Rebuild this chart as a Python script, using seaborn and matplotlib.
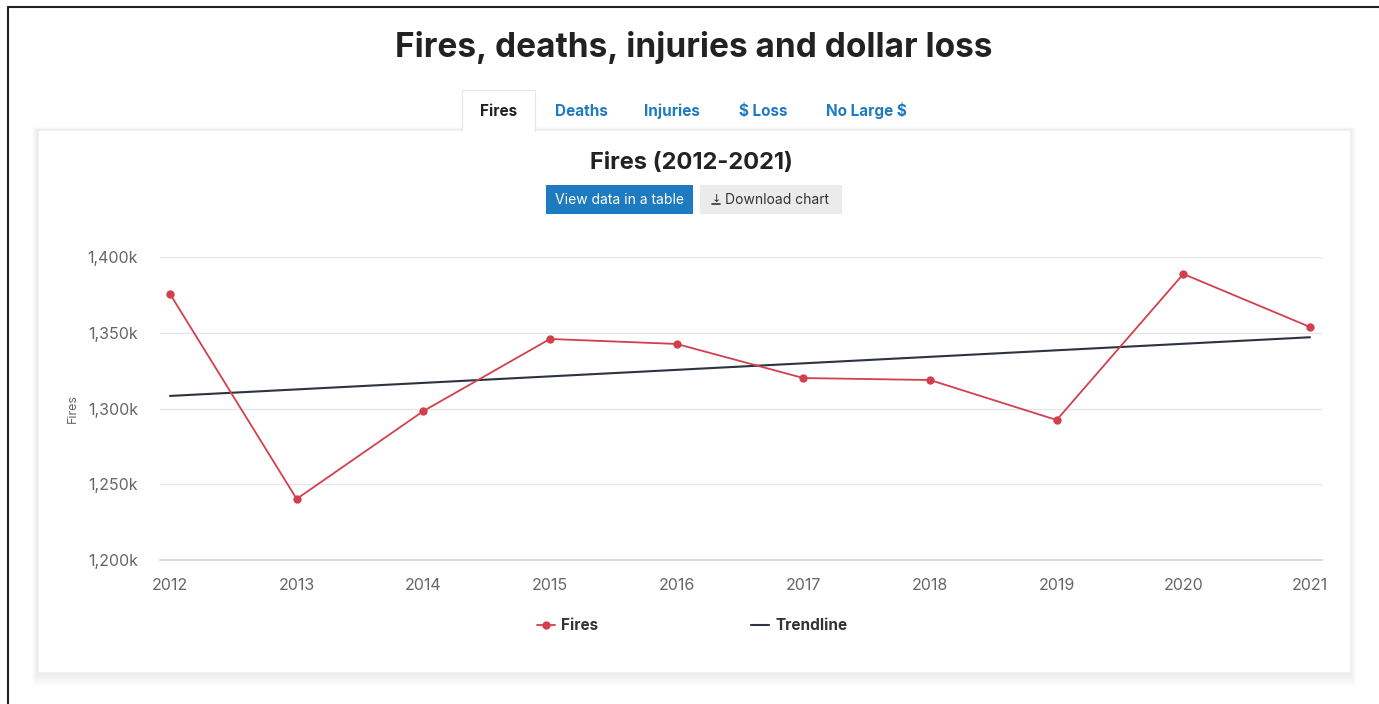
import matplotlib

matplotlib.use("Agg")
import matplotlib.pyplot as plt
import numpy as np
import pandas as pd
import seaborn as sns
from matplotlib.patches import Rectangle
from matplotlib.lines import Line2D
from matplotlib.ticker import FuncFormatter

W, H = 1379, 704

years = [2012, 2013, 2014, 2015, 2016, 2017, 2018, 2019, 2020, 2021]
fires = [1375600, 1240300, 1298300, 1345900, 1342600,
         1320100, 1318800, 1292400, 1388800, 1353800]
tabs = ["Fires", "Deaths", "Injuries", "$ Loss", "No Large $"]
yticks = [1200000, 1250000, 1300000, 1350000, 1400000]

RED = "#d2404d"
DARK = "#2b3440"
BLUE = "#1f7bbf"
GREY = "#666666"


def fx(x):
    return x / W


def fy(y):
    return 1 - y / H


df = pd.DataFrame({"year": years, "fires": fires})
slope, icpt = np.polyfit(df["year"], df["fires"], 1)
df["trend"] = slope * df["year"] + icpt

sns.set_theme(style="white")
plt.rcParams["font.family"] = ["Inter", "DejaVu Sans"]

fig = plt.figure(figsize=(W / 100, H / 100), dpi=100)
fig.patch.set_facecolor("white")

# outer page border (left + top only visible)
fig.add_artist(Line2D([fx(8), fx(8)], [fy(7), 0], color="#222222", lw=1.5))
fig.add_artist(Line2D([fx(8), 1], [fy(7), fy(7)], color="#222222", lw=1.5))

# soft card shadow (mostly below), then the card
for i in range(10):
    s = 10 - i
    fig.add_artist(Rectangle((fx(38 - s * 0.6), fy(672 + s * 1.4)), fx(1312 + 1.2 * s),
                             (542 + s * 1.4 + s * 0.3) / H,
                             facecolor="black", alpha=0.008, edgecolor="none"))
fig.add_artist(Rectangle((fx(38), fy(672)), fx(1312), 542 / H,
                         facecolor="white", edgecolor="#f0f0f0", lw=0.6))

# main heading
fig.text(fx(694), fy(47), "Fires, deaths, injuries and dollar loss", ha="center", va="center",
         fontsize=24, fontweight="bold", color="#222222")

# tabs
fig.add_artist(Rectangle((fx(462), fy(131)), fx(73), 41 / H, facecolor="white",
                         edgecolor="#e6e6e6", lw=0.8))
fig.add_artist(Rectangle((fx(463), fy(133)), fx(71), 4 / H, facecolor="white", edgecolor="none"))
tab_x = [499, 581, 672, 763, 866]
for t, x in zip(tabs, tab_x):
    fig.text(fx(x), fy(116), t, ha="center", va="baseline", fontsize=11, fontweight="bold",
             color="#222222" if t == "Fires" else BLUE)

# chart title and buttons
fig.text(fx(691), fy(163), "Fires (2012-2021)", ha="center", va="center",
         fontsize=17, fontweight="bold", color="#222222")
fig.add_artist(Rectangle((fx(546), fy(214)), fx(147), 29 / H, facecolor=BLUE, edgecolor="none"))
fig.text(fx(619.5), fy(199.5), "View data in a table", ha="center", va="center",
         fontsize=10, color="white")
fig.add_artist(Rectangle((fx(700), fy(214)), fx(142), 29 / H, facecolor="#ebebeb", edgecolor="none"))
fig.text(fx(716), fy(198.5), "\u2193", ha="center", va="center",
         fontsize=8, color="#333333", family=["DejaVu Sans"])
fig.add_artist(Line2D([fx(712), fx(720)], [fy(204), fy(204)], color="#333333", lw=1.2))
fig.text(fx(725), fy(199.5), "Download chart", ha="left", va="center",
         fontsize=10, color="#333333")

# plot area
ax = fig.add_axes([fx(160), fy(560), fx(1322 - 160), (560 - 257) / H])
ax.set_zorder(5)
ax.set_facecolor("none")
sns.lineplot(data=df, x="year", y="trend", ax=ax, color=DARK, lw=1.5, label="Trendline")
sns.lineplot(data=df, x="year", y="fires", ax=ax, color=RED, lw=1.3, marker="o",
             markersize=6, markeredgewidth=0, label="Fires", clip_on=False)

ax.set_xlim(2012 - 10 / 126.67, 2021 + 12 / 126.67)
ax.set_ylim(1200000, 1400000)
ax.set_yticks(yticks)
ax.set_xticks(years)
ax.yaxis.set_major_formatter(FuncFormatter(lambda v, p: f"{v / 1000:,.0f}k"))
ax.grid(axis="y", color="#e6e6e6", lw=1)
ax.set_axisbelow(True)
for side in ["top", "right", "left"]:
    ax.spines[side].set_visible(False)
ax.spines["bottom"].set_color("#ccd6eb")
ax.tick_params(axis="x", length=8, width=1, color="#ccd6eb", labelcolor=GREY, labelsize=11.5,
               pad=5, direction="out")
ax.tick_params(axis="y", length=0, labelcolor=GREY, labelsize=11.5, pad=16)
ax.set_xlabel("")
ax.set_ylabel("Fires", color=GREY, fontsize=9, labelpad=6)

h, l = ax.get_legend_handles_labels()
leg = ax.legend(h[::-1], l[::-1], ncol=2, frameon=False, loc="center",
                bbox_to_anchor=(fx(692), fy(626)), bbox_transform=fig.transFigure,
                handlelength=1.2, columnspacing=10, handletextpad=0.4,
                prop={"weight": "bold", "size": 11})
for t in leg.get_texts():
    t.set_color("#333333")

fig.savefig("out.png", dpi=100)
